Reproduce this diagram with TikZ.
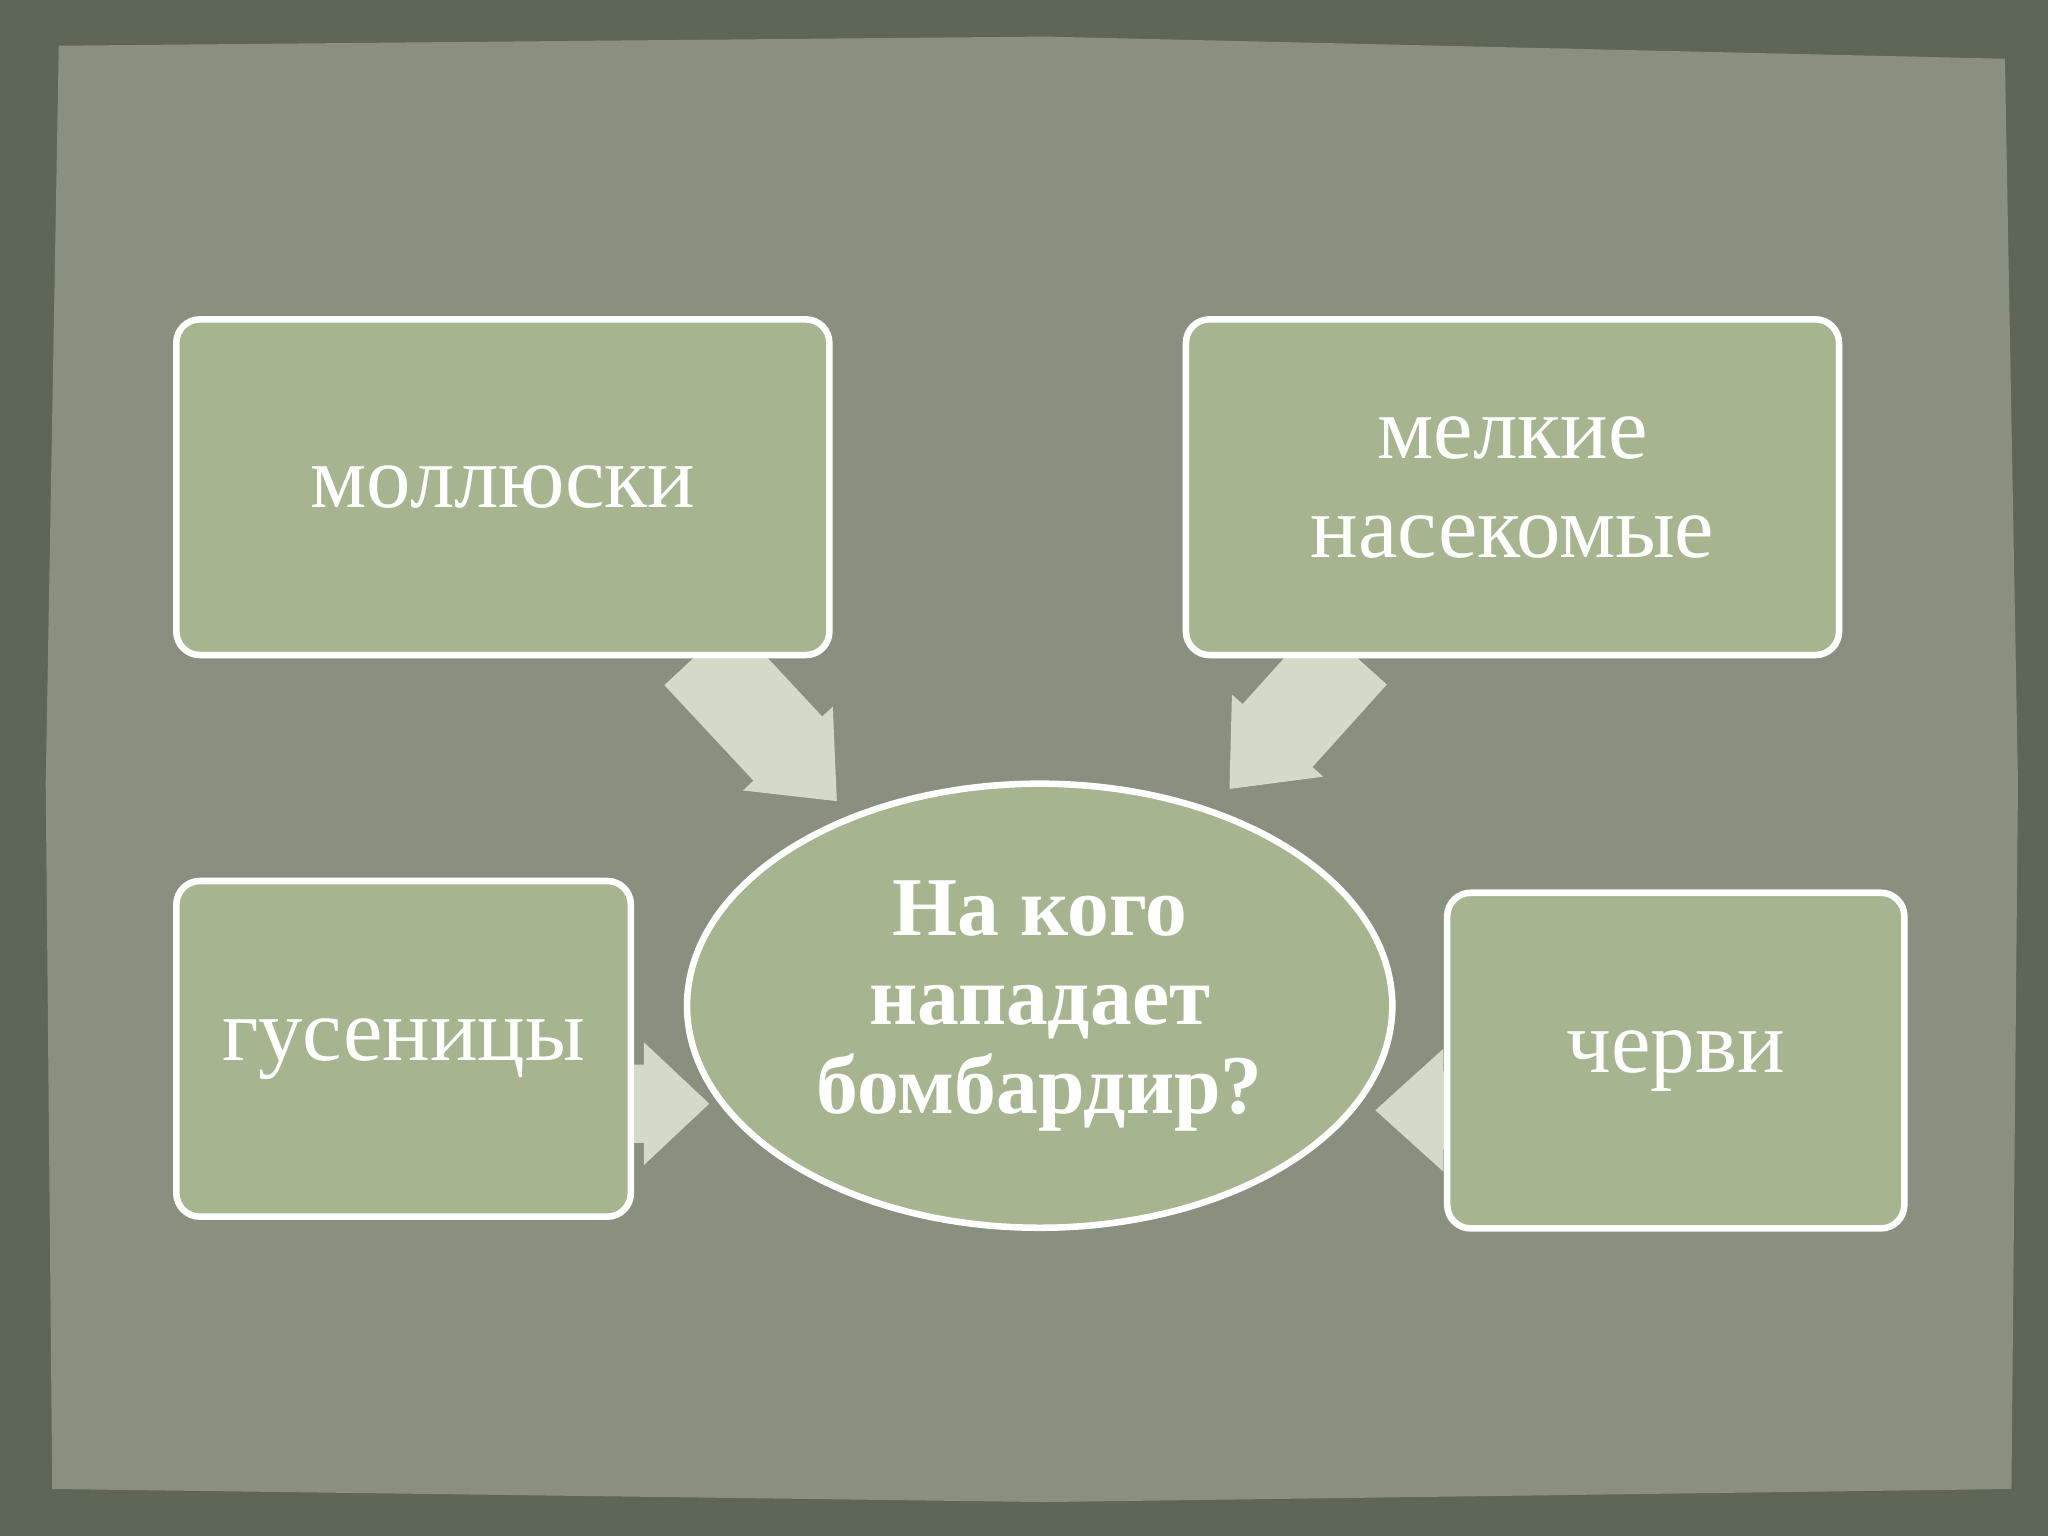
\documentclass[tikz,border=0pt]{standalone}
\usepackage{fontspec}
\setmainfont{Liberation Serif}
\usetikzlibrary{shapes.geometric}
\definecolor{outerbg}{HTML}{5E6757}
\definecolor{paper}{HTML}{8A9080}
\definecolor{boxfill}{HTML}{A6B490}
\definecolor{arrowc}{HTML}{D3DAC8}
\tikzset{
  box/.style={draw=white,line width=5pt,rounded corners=18pt,fill=boxfill,text=white,align=center,font=\fontsize{68}{76}\selectfont},
  blk/.style={fill=arrowc,draw=none}
}
\newcommand{\blockarrow}[7]{% x y angle L headlen headhalf shafthalf
  \fill[blk,shift={(#1,#2)},rotate=#3] (0,-#7)--(#4-#5,-#7)--(#4-#5,-#6)--(#4,0)--(#4-#5,#6)--(#4-#5,#7)--(0,#7)--cycle;}
\begin{document}
\begin{tikzpicture}[x=1pt,y=-1pt]
\useasboundingbox (0,0) rectangle (1568,1176);
\fill[outerbg] (0,0) rectangle (1568,1176);
\fill[paper] (45,35) -- (800,28) -- (1535,45) -- (1545,600) -- (1540,1140) -- (800,1150) -- (40,1140) -- (35,600) -- cycle;
\blockarrow{535}{500}{-47}{155}{55}{47}{36}
\blockarrow{1035}{500}{-132}{140}{55}{47}{36}
\blockarrow{470}{845}{0}{73}{50}{47}{30}
\blockarrow{1115}{850}{180}{62}{52}{47}{30}
\node[box,minimum width=500pt,minimum height=257pt] (a) at (385,373) {моллюски};
\node[box,minimum width=500pt,minimum height=257pt] (b) at (1158,373) {мелкие\\насекомые};
\node[box,minimum width=348pt,minimum height=257pt] (c) at (309,803) {гусеницы};
\node[box,minimum width=350pt,minimum height=257pt] (d) at (1283,812) {черви};
\node[ellipse,draw=white,line width=5pt,fill=boxfill,text=white,align=center,
  minimum width=540pt,minimum height=340pt,inner sep=0pt,
  font=\bfseries\fontsize{64}{68}\selectfont] (e) at (796,770) {На кого\\нападает\\бомбардир?};
\end{tikzpicture}
\end{document}
